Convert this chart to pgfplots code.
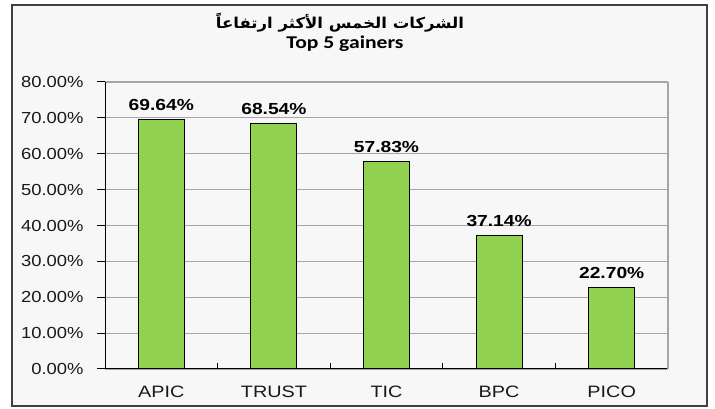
\documentclass[border=0pt]{standalone}
\usepackage{pgfplots}
\pgfplotsset{compat=1.18}
\usepackage{graphicx}
\usepackage{fontspec}
\setmainfont{Liberation Sans}
\newfontfamily\arabicfont[Script=Arabic]{DejaVu Sans}
\newfontfamily\carlito{Carlito}
\TeXXeTstate=1
\definecolor{bargreen}{HTML}{92D050}
\definecolor{bgc}{HTML}{F7F7F7}
\definecolor{gridc}{HTML}{A6A6A6}
\pgfplotstableread{
x y
0 69.64
1 68.54
2 57.83
3 37.14
4 22.70
}\gainers
\begin{document}
\begin{tikzpicture}
\path[fill=white] (0pt,0pt) rectangle (715pt,409pt);
\draw[line width=2pt, draw=black!75, fill=bgc] (12pt,3pt) rectangle (707pt,404pt);
\node[font=\arabicfont\bfseries\fontsize{15}{17}\selectfont] at (340pt,386pt) {\scalebox{1.1}[1]{\beginR الشركات الخمس الأكثر ارتفاعاً\endR}};
\node[font=\carlito\bfseries\fontsize{18}{20}\selectfont] at (345pt,365pt) {\scalebox{1.2}[1]{Top 5 gainers}};
\begin{axis}[
  at={(105pt,40pt)}, anchor=south west,
  scale only axis, width=563pt, height=287pt,
  xmin=-0.5, xmax=4.5, ymin=0, ymax=80,
  axis x line*=bottom, axis y line*=left,
  axis line style={black, line width=1pt},
  ytick={0,10,...,80},
  yticklabel={\scalebox{1.15}[1]{\pgfmathprintnumber[fixed,fixed zerofill,precision=2]{\tick}\%}},
  /pgf/number format/assume math mode=true,
  xtick={0,1,2,3,4}, xticklabels={\scalebox{1.2}[1]{APIC},\scalebox{1.2}[1]{TRUST},\scalebox{1.2}[1]{TIC},\scalebox{1.2}[1]{BPC},\scalebox{1.2}[1]{PICO}},
  minor xtick={0.5,1.5,2.5,3.5},
  tick align=outside,
  major tick length=8pt, minor tick length=6pt,
  tick style={black, line width=1pt},
  major x tick style={draw=none},
  every minor x tick/.append style={yshift=6pt},
  ymajorgrids, major grid style={gridc, line width=1.2pt},
  ticklabel style={font=\fontsize{16}{18}\selectfont, text=black!90},
  xticklabel style={font=\fontsize{16.5}{18}\selectfont, yshift=-5pt},
  yticklabel style={xshift=-10pt},
  ybar, bar width=46pt,
  nodes near coords={\scalebox{1.2}[1]{\pgfmathprintnumber[fixed,fixed zerofill,precision=2]{\pgfplotspointmeta}\%}},
  every node near coord/.append style={font=\bfseries\fontsize{16}{18}\selectfont, anchor=south, yshift=5pt, text=black},
  clip=false,
]
\addplot[fill=bargreen, draw=black, line width=1pt] table[x=x, y=y] {\gainers};
\draw[gridc, line width=1.2pt] (axis cs:4.5,0) -- (axis cs:4.5,80);
\end{axis}
\end{tikzpicture}
\end{document}
